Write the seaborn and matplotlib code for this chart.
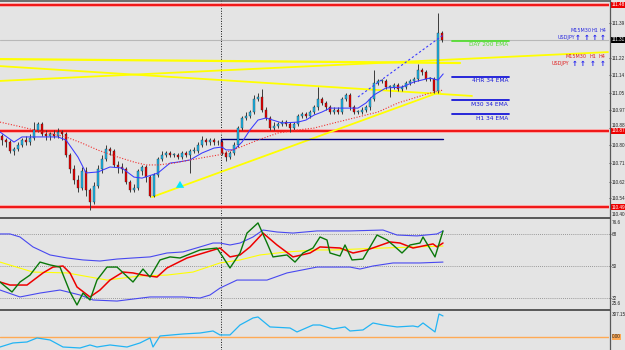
import matplotlib
matplotlib.use("Agg")
import matplotlib.pyplot as plt
from matplotlib.lines import Line2D
from matplotlib import font_manager
from matplotlib.transforms import ScaledTranslation
import seaborn as sns
import pandas as pd

# ---------------- data ----------------
first_open = 110.84
close = [110.82, 110.81, 110.77, 110.78, 110.80, 110.82, 110.81, 110.83, 110.87, 110.90,
         110.85, 110.84, 110.85, 110.84, 110.86, 110.85, 110.75, 110.68, 110.63, 110.59,
         110.67, 110.58, 110.52, 110.60, 110.68, 110.73, 110.78, 110.77, 110.70, 110.69,
         110.68, 110.62, 110.58, 110.59, 110.67, 110.69, 110.64, 110.55, 110.65, 110.73,
         110.75, 110.76, 110.75, 110.75, 110.74, 110.76, 110.75, 110.77, 110.77, 110.80,
         110.82, 110.81, 110.82, 110.81, 110.81, 110.76, 110.74, 110.76, 110.80, 110.88,
         110.93, 110.94, 110.96, 111.02, 111.03, 110.97, 110.93, 110.88, 110.89, 110.90,
         110.91, 110.90, 110.88, 110.90, 110.94, 110.95, 110.94, 110.96, 110.98, 111.02,
         111.00, 110.98, 110.96, 110.97, 110.96, 111.02, 111.04, 110.98, 110.96, 110.96,
         110.97, 110.98, 111.02, 111.10, 111.11, 111.11, 111.08, 111.08, 111.09, 111.07,
         111.08, 111.10, 111.11, 111.12, 111.16, 111.15, 111.12, 111.12, 111.06, 111.34,
         111.31]
high = [110.85, 110.83, 110.82, 110.79, 110.81, 110.83, 110.84, 110.85, 110.91, 110.91,
        110.91, 110.87, 110.86, 110.87, 110.88, 110.87, 110.86, 110.76, 110.70, 110.65,
        110.69, 110.69, 110.59, 110.62, 110.70, 110.75, 110.80, 110.79, 110.78, 110.72,
        110.71, 110.69, 110.63, 110.61, 110.68, 110.70, 110.70, 110.65, 110.66, 110.74,
        110.77, 110.77, 110.77, 110.76, 110.76, 110.77, 110.77, 110.78, 110.79, 110.81,
        110.84, 110.83, 110.83, 110.83, 110.82, 110.82, 110.77, 110.77, 110.81, 110.89,
        110.94, 110.96, 110.97, 111.04, 111.05, 111.07, 110.98, 110.94, 110.91, 110.91,
        110.92, 110.92, 110.91, 110.91, 110.95, 110.96, 110.96, 110.97, 110.99, 111.08,
        111.03, 111.01, 110.99, 110.98, 110.98, 111.03, 111.05, 111.05, 110.99, 110.97,
        110.98, 110.99, 111.03, 111.16, 111.12, 111.12, 111.12, 111.09, 111.10, 111.10,
        111.09, 111.11, 111.12, 111.13, 111.19, 111.17, 111.16, 111.13, 111.13, 111.44,
        111.35]
low = [110.80, 110.79, 110.76, 110.75, 110.77, 110.79, 110.80, 110.80, 110.82, 110.86,
       110.84, 110.82, 110.82, 110.83, 110.83, 110.82, 110.74, 110.66, 110.61, 110.57,
       110.58, 110.55, 110.48, 110.51, 110.59, 110.66, 110.72, 110.75, 110.69, 110.66,
       110.66, 110.61, 110.57, 110.57, 110.58, 110.65, 110.62, 110.545, 110.545, 110.64,
       110.72, 110.74, 110.74, 110.74, 110.73, 110.73, 110.74, 110.66, 110.76, 110.76,
       110.79, 110.80, 110.80, 110.80, 110.80, 110.75, 110.72, 110.73, 110.75, 110.79,
       110.87, 110.92, 110.93, 110.95, 111.01, 110.96, 110.92, 110.87, 110.87, 110.88,
       110.89, 110.89, 110.86, 110.87, 110.89, 110.93, 110.93, 110.93, 110.95, 110.97,
       110.99, 110.97, 110.95, 110.95, 110.95, 110.95, 111.01, 110.97, 110.95, 110.95,
       110.95, 110.96, 110.97, 111.01, 111.09, 111.10, 111.07, 111.03, 111.07, 111.06,
       111.06, 111.07, 111.09, 111.10, 111.11, 111.14, 111.11, 111.11, 111.05, 111.05,
       111.30]

# moving averages (bar index, price)
ema_fast_idx = [-0.5, 3, 5, 14, 16, 19, 21, 24, 27, 30, 33, 35, 39, 42, 44, 47, 50, 53, 55, 56,
                58, 60, 62, 64, 66, 70, 74, 76, 78, 80, 82, 85, 89, 91, 93, 96, 100, 103, 107, 109, 110.3]
ema_fast = [110.861, 110.812, 110.837, 110.837, 110.822, 110.739, 110.662, 110.667, 110.691, 110.686,
            110.642, 110.637, 110.662, 110.710, 110.715, 110.725, 110.759, 110.783, 110.788, 110.774,
            110.774, 110.812, 110.871, 110.919, 110.929, 110.905, 110.909, 110.919, 110.943, 110.958,
            110.977, 110.977, 110.977, 111.002, 111.041, 111.075, 111.079, 111.104, 111.123, 111.113, 111.143]
ema_slow_idx = [-0.5, 5, 8, 16, 20, 24, 29, 33, 36, 39, 43, 47, 51, 54, 59, 64, 69, 74, 78, 83,
                88, 94, 99, 107, 110.3]
ema_slow = [110.909, 110.885, 110.871, 110.837, 110.807, 110.773, 110.739, 110.715, 110.701, 110.701,
            110.710, 110.725, 110.739, 110.749, 110.783, 110.822, 110.856, 110.871, 110.880, 110.905,
            110.929, 110.958, 111.002, 111.050, 111.065]
channel_idx = [89, 110.3]
channel = [111.031, 111.332]
trend_idx = [37.5, 109.5]
trend = [110.545, 111.055]
yellow_a_idx = [-0.5, 114.5]
yellow_a = [111.215, 111.196]
yellow_b_idx = [-0.5, 117.5]
yellow_b = [111.181, 111.036]
yellow_c_idx = [-0.5, 151.5]
yellow_c = [111.109, 111.249]

red_levels = [111.478, 110.866, 110.496]
red_level_labels = ["111.48", "110.87", "110.49"]
current_price = 111.308
current_label = "111.31"
navy_level = 110.827
navy_start = 54.75
ema_tags = ["DAY 200 EMA", "4HR 34 EMA", "M30 34 EMA", "H1 34 EMA"]
ema_tag_levels = [111.303, 111.128, 111.016, 110.948]
ema_tag_colors = ["#55dd33", "#1818d8", "#1818d8", "#1818d8"]
price_ticks = [111.39, 111.22, 111.14, 111.05, 110.97, 110.88, 110.80, 110.71, 110.62, 110.54]
price_tick_labels = ["111.39", "111.22", "111.14", "111.05", "110.97", "110.88", "110.80",
                     "110.71", "110.62", "110.54"]
timeframes = ["M15M30", "H1", "H4"]

# TDI panel
tdi_up_idx = [-0.5, 2, 4.5, 7.75, 12, 16.25, 20.25, 24.5, 28.75, 32.75, 37, 41.25, 45.25, 49.5, 52.75,
              54.5, 57, 59.5, 62.75, 65.25, 68.75, 72.75, 78.75, 87, 95.25, 98.75, 103.75, 108.75, 110.25]
tdi_up = [68.0, 68.0, 66.3, 60.7, 56.2, 54.5, 53.4, 52.8, 53.9, 54.5, 55.1, 57.3, 57.9, 60.7, 62.9,
          62.9, 61.8, 62.9, 66.3, 70.2, 69.1, 68.5, 69.7, 69.7, 70.2, 67.4, 66.9, 68.0, 69.7]
tdi_lo_idx = [-0.5, 4.5, 9.5, 14.5, 19.5, 22.75, 28.75, 37, 45.25, 49.5, 52, 54.5, 58.75, 66.25,
              71.25, 78.75, 87, 89.5, 92.75, 97.75, 104.5, 110.25]
tdi_lo = [36.5, 32.6, 34.8, 36.5, 33.7, 30.9, 30.3, 32.6, 32.6, 32.0, 33.7, 37.6, 42.1, 42.1,
          46.1, 49.4, 49.4, 48.3, 50.0, 51.7, 51.7, 52.2]
tdi_sig_idx = [-0.5, 2, 6.25, 10.25, 12.75, 15.25, 17, 18.75, 22, 24.5, 27, 30.25, 32.75, 35.25,
               38.75, 41.25, 46.25, 51.25, 54.5, 57, 59.5, 62, 65.25, 68.75, 72.75, 77, 79.5, 84.5,
               87.75, 91.25, 97, 99.5, 102.75, 107.75, 108.75, 110.25]
tdi_sig = [41.0, 39.3, 39.3, 46.1, 49.4, 50.0, 46.1, 38.2, 32.6, 36.5, 42.1, 46.6, 46.1, 44.9,
           43.8, 48.9, 54.5, 57.9, 60.1, 55.1, 56.2, 60.7, 68.5, 61.8, 55.1, 57.3, 60.7, 60.1,
           57.3, 59.0, 63.5, 62.9, 60.1, 62.4, 60.7, 62.9]
tdi_rsi_idx = [-0.5, 2.5, 4.5, 7, 9.5, 12, 14.5, 17, 18.75, 20.25, 22, 23.75, 26.25, 28.75, 32.75,
               35.25, 37, 39.5, 42, 44.5, 49.5, 53.75, 57, 59.5, 61.25, 64, 66.25, 67.75, 71.25,
               73.25, 75.25, 77.75, 79.5, 81.25, 82, 84.5, 85.75, 87.5, 90.25, 93.75, 96.25, 97.75,
               100, 102, 104.5, 105.25, 108.25, 110.25]
tdi_rsi = [41.0, 35.4, 41.0, 44.9, 52.2, 50.6, 49.4, 35.4, 28.1, 34.8, 30.9, 42.1, 49.4, 49.4, 41.0,
           48.3, 43.8, 53.4, 55.1, 54.5, 59.0, 60.1, 48.9, 57.3, 68.5, 74.2, 62.9, 55.1, 56.2,
           52.2, 57.3, 60.1, 66.3, 64.6, 57.3, 55.6, 61.8, 53.4, 53.9, 67.4, 64.6, 61.8,
           57.3, 61.8, 62.9, 66.3, 55.1, 69.7]
tdi_base_idx = [-0.5, 7.75, 16.25, 26.25, 34.5, 41.25, 47.75, 54.5, 59.5, 64.5, 71.25, 78.75,
                82.75, 95.25, 110.25]
tdi_base = [52.2, 46.6, 46.1, 42.1, 44.4, 44.9, 46.6, 51.7, 53.4, 56.2, 57.9, 59.0, 59.0, 60.1, 61.2]
tdi_levels = [68, 50, 32]

# bottom oscillator
osc_idx = [-0.5, 2.75, 6.25, 8.75, 12, 15.25, 19.5, 22, 23.75, 27, 31.25, 34.5, 37, 37.75, 39.5,
           45.25, 49.5, 52.75, 54.5, 57, 59.5, 62.75, 64, 67, 72, 73.75, 77.75, 79.5, 82.75,
           85.75, 87, 90.25, 92.75, 95.25, 98.75, 102.75, 104, 105.25, 108.25, 109.25, 110.25]
osc = [-134, -80, -67, -13, -40, -134, -147, -107, -134, -107, -134, -80, -13, -134, 13,
       40, 53, 80, 27, 27, 160, 254, 267, 134, 120, 67, 160, 160, 107,
       134, 80, 94, 187, 160, 134, 147, 134, 187, 67, 307, 281]

# ---------------- figure ----------------
bg = "#e4e4e4"
sns.set_style("white", {"axes.facecolor": bg, "figure.facecolor": bg})
plt.rcParams["font.family"] = ["DejaVu Sans"]

names = {f.name for f in font_manager.fontManager.ttflist}
AXF = "Liberation Sans Narrow" if "Liberation Sans Narrow" in names else "Liberation Sans"
AX_FS = 3.9 if AXF == "Liberation Sans Narrow" else 3.3

W, H = 625, 350
fig = plt.figure(figsize=(W / 100, H / 100), dpi=100)


def axes_px(x0, y0, x1, y1):
    return fig.add_axes([x0 / W, 1 - y1 / H, (x1 - x0) / W, (y1 - y0) / H])


ax = axes_px(0, 0, 609, 216)
ax_r = axes_px(0, 219, 609, 308)
ax_b = axes_px(0, 311, 609, 350)
XL = (-0.5, 151.75)
for a in (ax, ax_r, ax_b):
    a.set_xlim(*XL)
    a.set_xticks([])
    for s in a.spines.values():
        s.set_visible(False)
    a.yaxis.tick_right()
    a.tick_params(axis="y", direction="out", length=1.6, width=0.5, pad=0.6,
                  labelsize=AX_FS, colors="#222222")
    a.axvline(54.75, color="#111111", lw=0.7, ls=(0, (1, 1.6)), zorder=1)

ax.set_ylim(110.453, 111.502)

# static lines
ax.axhline(current_price, color="#b8b8b8", lw=0.8, zorder=1)
for lv in red_levels:
    ax.axhline(lv, color="#ff9a9a", lw=2.6, zorder=2)
    ax.axhline(lv, color="#ee0000", lw=1.2, zorder=2)

for idx, val, lw in [(yellow_a_idx, yellow_a, 1.6), (yellow_b_idx, yellow_b, 1.3),
                     (yellow_c_idx, yellow_c, 1.3), (trend_idx, trend, 1.3)]:
    sns.lineplot(x=idx, y=val, ax=ax, color="#ffff00", lw=lw, estimator=None,
                 sort=False, legend=False, zorder=2)

ax.plot([navy_start, 110.25], [navy_level, navy_level], color="#000080", lw=1.0, zorder=3)
ax.plot([navy_start, navy_start], [navy_level, navy_level - 0.03], color="#000080", lw=1.0, zorder=3)

# candles
n = len(close)
opens = [first_open] + close[:-1]
df = pd.DataFrame({"i": range(n), "o": opens, "c": close, "h": high, "l": low})
df["bot"] = df[["o", "c"]].min(axis=1)
df["ht"] = (df["c"] - df["o"]).abs().clip(lower=0.003)
df["col"] = ["#1cb8ec" if c >= o else "#e80000" for o, c in zip(df["o"], df["c"])]
ax.vlines(df["i"], df["l"], df["h"], color="#3a3a3a", lw=0.7, zorder=4)
ax.bar(df["i"], df["ht"], bottom=df["bot"], width=0.72, color=df["col"],
       edgecolor="#202020", linewidth=0.25, zorder=5)

# moving averages
sns.lineplot(x=ema_fast_idx, y=ema_fast, ax=ax, color="#3a3aff", lw=0.75, estimator=None,
             sort=False, legend=False, zorder=6)
ax.plot(ema_slow_idx, ema_slow, color="#f03030", lw=0.8, ls=(0, (1, 1.5)), zorder=6)
ax.plot(channel_idx, channel, color="#3a3aff", lw=0.8, ls=(0, (2, 2)), zorder=6)

# cyan arrow
ax.annotate("", xy=(44.5, 110.637), xytext=(44.5, 110.600),
            arrowprops=dict(arrowstyle="simple,head_width=0.6,head_length=0.5,tail_width=0.25",
                            color="#00e8ff", lw=0), zorder=7)

# EMA tags
for tag, lv, colr in zip(ema_tags, ema_tag_levels, ema_tag_colors):
    ax.plot([112.5, 126.75], [lv, lv], color=colr, lw=1.3, zorder=3)
    ax.text(126.5, lv - 0.007, tag, color=colr, fontsize=4.2, ha="right", va="top", zorder=3)

# price axis
ax.set_yticks(price_ticks, labels=price_tick_labels)
for t in ax.get_yticklabels():
    t.set_fontfamily(AXF)
    if t.get_text() == "110.88":
        t.set_transform(t.get_transform() + ScaledTranslation(0, 3.5 / 100, fig.dpi_scale_trans))
yt = ax.get_yaxis_transform()
box_kw = dict(transform=yt, fontsize=AX_FS, family=AXF, ha="left", va="center", clip_on=False,
              zorder=8)
for lv, lab in zip(red_levels, red_level_labels):
    ax.text(1.004, lv, lab, color="white", bbox=dict(fc="#ee0000", ec="none", pad=0.3), **box_kw)
ax.text(1.004, current_price, current_label, color="white",
        bbox=dict(fc="#000000", ec="none", pad=0.3), **box_kw)
ax.text(1.005, 110.458, "110.40", color="#222222", **box_kw)

# top-right signal table
def ftext(x, y, s, **kw):
    fig.text(x / W, 1 - y / H, s, **kw)

for row_y, col, usd_x, tf_x, arr_x in [
        (31, "#2a2ae0", 566, [581, 595, 602.5], [578, 587, 595, 603]),
        (57, "#e02020", 560, [576.5, 592.5, 601.5], [575, 583, 593, 603])]:
    for s, x in zip(timeframes, tf_x):
        ftext(x, row_y, s, color=col, fontsize=3.5, ha="center", va="center")
    ftext(usd_x, row_y + 6.5, "USDJPY", color=col, fontsize=3.5, ha="center", va="center")
    for x in arr_x:
        ftext(x, row_y + 6.5, "\u2191", color="#1a1af0", fontsize=5, fontweight="bold",
              ha="center", va="center")

# ---------------- TDI panel ----------------
ax_r.set_ylim(26.4, 76.4)
for lv in tdi_levels:
    ax_r.axhline(lv, color="#808080", lw=0.6, ls=(0, (1, 1.5)), zorder=1)
for idx, val, colr, lw in [(tdi_up_idx, tdi_up, "#4848f0", 0.8),
                           (tdi_lo_idx, tdi_lo, "#4848f0", 0.8),
                           (tdi_base_idx, tdi_base, "#ffff00", 0.8),
                           (tdi_sig_idx, tdi_sig, "#ee0000", 1.1),
                           (tdi_rsi_idx, tdi_rsi, "#0a780a", 1.0)]:
    sns.lineplot(x=idx, y=val, ax=ax_r, color=colr, lw=lw, estimator=None, sort=False,
                 legend=False, zorder=3)
ax_r.set_yticks(tdi_levels, labels=[str(v) for v in tdi_levels])
for t in ax_r.get_yticklabels():
    t.set_fontfamily(AXF)
ax_r.text(1.005, 0.96, "76.6", transform=ax_r.transAxes, fontsize=AX_FS, family=AXF,
          color="#222222", ha="left", va="center", clip_on=False)
ax_r.text(1.005, 0.05, "25.6", transform=ax_r.transAxes, fontsize=AX_FS, family=AXF,
          color="#222222", ha="left", va="center", clip_on=False)

# ---------------- bottom oscillator ----------------
ax_b.set_ylim(-174, 347)
ax_b.axhline(0, color="#ffaa55", lw=1.0, zorder=1)
sns.lineplot(x=osc_idx, y=osc, ax=ax_b, color="#22b4f4", lw=0.9, estimator=None, sort=False,
             legend=False, zorder=3)
ax_b.set_yticks([])
ax_b.text(1.005, 0, "0.00", transform=ax_b.get_yaxis_transform(), fontsize=AX_FS, family=AXF,
          color="#222222", ha="left", va="center",
          bbox=dict(fc="#ffaa55", ec="none", pad=0.3), clip_on=False)
ax_b.text(1.005, 0.92, "307.15", transform=ax_b.transAxes, fontsize=AX_FS, family=AXF,
          color="#222222", ha="left", va="center", clip_on=False)

for a in (ax, ax_r, ax_b):
    a.set_xlabel("")
    a.set_ylabel("")

# frame lines: top border, panel separators, price-axis line
for yy, lw in [(1, 1.2), (217.5, 1.4), (309.5, 1.4)]:
    fig.add_artist(Line2D([0, 609.5 / W], [1 - yy / H] * 2, color="#585858", lw=lw))
fig.add_artist(Line2D([609.5 / W] * 2, [0, 1], color="#585858", lw=0.9))

fig.savefig("out.png", dpi=100, facecolor=bg)
